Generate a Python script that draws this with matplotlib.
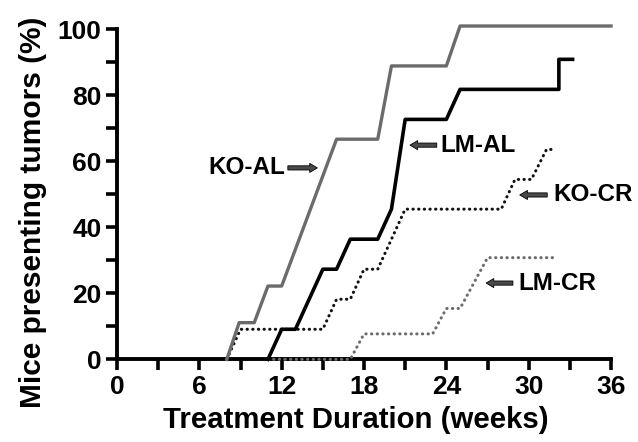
import matplotlib
matplotlib.use("Agg")
import matplotlib.pyplot as plt
from matplotlib.ticker import MultipleLocator

plt.rcParams['font.family'] = ['Liberation Sans', 'DejaVu Sans']
plt.rcParams['font.weight'] = 'bold'

# ---- data (weeks, % mice with tumors) ----
ko_al_weeks = [8, 8.9, 10, 11, 12, 16, 19, 20, 24, 25, 36]
ko_al_pct = [0, 11.1, 11.1, 22.2, 22.2, 66.7, 66.7, 88.9, 88.9, 101, 101]

lm_al_weeks = [11, 12, 13, 15, 16, 17, 19, 20, 21, 24, 25, 32.2, 32.2, 33.2]
lm_al_pct = [0, 9.1, 9.1, 27.3, 27.3, 36.4, 36.4, 45.5, 72.7, 72.7, 81.8, 81.8, 90.9, 90.9]

ko_cr_weeks = [8, 9, 15, 16, 17, 18, 19, 21, 28, 29, 30.2, 31.3, 32]
ko_cr_pct = [0, 9.1, 9.1, 18.2, 18.2, 27.3, 27.3, 45.5, 45.5, 54.5, 54.5, 63.6, 63.6]

lm_cr_weeks = [11, 17, 18, 23, 24, 25, 27, 32]
lm_cr_pct = [0, 0, 7.7, 7.7, 15.4, 15.4, 30.8, 30.8]

# label text, text x, text y, arrow tail x, arrow tip x
labels = [
    ("KO-AL", 12.25, 58.0, 12.45, 14.6, 'right'),
    ("LM-AL", 23.6, 64.9, 23.3, 21.35, 'left'),
    ("KO-CR", 31.8, 49.8, 31.35, 29.35, 'left'),
    ("LM-CR", 29.25, 23.1, 28.85, 26.9, 'left'),
]

GRAY = '#6b6b6b'

fig = plt.figure(figsize=(6.38, 4.42), dpi=100)
ax = fig.add_axes([0.1834, 0.1871, 0.9577 - 0.1834, 0.9337 - 0.1871])

dots = (0, (0.1, 1.75))
ax.plot(lm_cr_weeks, lm_cr_pct, color=GRAY, lw=2.2, linestyle=dots,
        dash_capstyle='round', clip_on=False, zorder=5)
ax.plot(ko_cr_weeks, ko_cr_pct, color='#111111', lw=2.2, linestyle=dots,
        dash_capstyle='round', clip_on=False, zorder=5)
ax.plot(ko_al_weeks, ko_al_pct, color=GRAY, lw=2.4, clip_on=False, zorder=6)
ax.plot(lm_al_weeks, lm_al_pct, color='black', lw=2.6, clip_on=False, zorder=6)

for txt, tx, ty, x0, x1, ha in labels:
    ax.text(tx, ty, txt, ha=ha, va='center', fontsize=17.5, fontweight='bold')
    ax.annotate('', xy=(x1, ty), xytext=(x0, ty),
                arrowprops=dict(arrowstyle='simple,head_length=0.55,head_width=0.65,tail_width=0.3',
                                fc='#4a4a4a', ec='black', lw=0.6,
                                shrinkA=0, shrinkB=0, mutation_scale=10))

ax.set_xlim(0, 36)
ax.set_ylim(0, 100)
ax.xaxis.set_major_locator(MultipleLocator(6))
ax.xaxis.set_minor_locator(MultipleLocator(3))
ax.yaxis.set_major_locator(MultipleLocator(20))
ax.yaxis.set_minor_locator(MultipleLocator(10))

for s in ['top', 'right']:
    ax.spines[s].set_visible(False)
for s in ['left', 'bottom']:
    ax.spines[s].set_linewidth(2.8)
    ax.spines[s].set_capstyle('projecting')

ax.tick_params(which='both', direction='out', length=8, width=2.6, color='black')
ax.tick_params(which='major', labelsize=19, pad=3)

ax.set_xlabel("Treatment Duration (weeks)", fontsize=21.2, fontweight='bold')
ax.set_ylabel("Mice presenting tumors (%)", fontsize=21.5, fontweight='bold')
ax.xaxis.set_label_coords(0.484, -0.142)
ax.yaxis.set_label_coords(-0.142, 0.446)

fig.savefig("out.png", dpi=100)
